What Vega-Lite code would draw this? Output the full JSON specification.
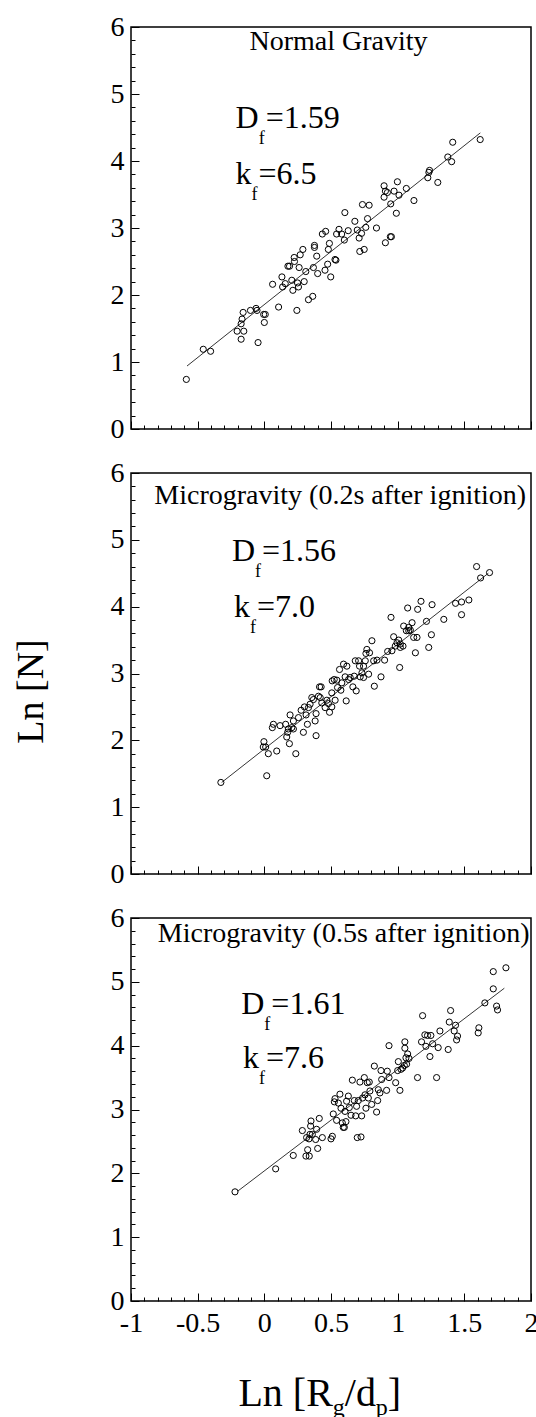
{
"$schema": "https://vega.github.io/schema/vega-lite/v6.json",
"background": "white",
"padding": {"left": 11, "top": 12, "right": 0, "bottom": 0},
"spacing": 44,
"bounds": "flush",
"config": {
  "font": "Liberation Serif",
  "view": {"stroke": "black", "strokeWidth": 1.5},
  "text": {"font": "Liberation Serif", "color": "black"},
  "axis": {"domain": false, "grid": false, "tickColor": "black", "tickWidth": 1, "tickCount": 100, "labelColor": "black", "labelFont": "Liberation Serif", "labelFontSize": 28, "labelOverlap": false, "labelBound": false, "labelFlush": false, "titleFont": "Liberation Serif", "titleFontSize": 38, "titleFontWeight": "normal", "titleColor": "black"}
},
"datasets": {
  "pts": [
{"panel":"a","x":-0.585,"y":0.74},{"panel":"a","x":-0.458,"y":1.19},{"panel":"a","x":-0.403,"y":1.16},{"panel":"a","x":-0.204,"y":1.46},{"panel":"a","x":-0.174,"y":1.34},{"panel":"a","x":-0.154,"y":1.46},{"panel":"a","x":-0.174,"y":1.57},{"panel":"a","x":-0.167,"y":1.64},{"panel":"a","x":-0.159,"y":1.74},{"panel":"a","x":-0.104,"y":1.77},{"panel":"a","x":-0.062,"y":1.80},{"panel":"a","x":-0.055,"y":1.77},{"panel":"a","x":-0.047,"y":1.29},{"panel":"a","x":-0.005,"y":1.71},{"panel":"a","x":0.007,"y":1.71},{"panel":"a","x":0.0,"y":1.59},{"panel":"a","x":0.062,"y":2.16},{"panel":"a","x":0.107,"y":1.82},{"panel":"a","x":0.132,"y":2.27},{"panel":"a","x":0.137,"y":2.12},{"panel":"a","x":0.157,"y":2.17},{"panel":"a","x":0.177,"y":2.43},{"panel":"a","x":0.189,"y":2.43},{"panel":"a","x":0.206,"y":2.22},{"panel":"a","x":0.214,"y":2.07},{"panel":"a","x":0.224,"y":2.56},{"panel":"a","x":0.226,"y":2.50},{"panel":"a","x":0.244,"y":1.77},{"panel":"a","x":0.249,"y":2.18},{"panel":"a","x":0.256,"y":2.12},{"panel":"a","x":0.261,"y":2.41},{"panel":"a","x":0.269,"y":2.60},{"panel":"a","x":0.289,"y":2.68},{"panel":"a","x":0.299,"y":2.20},{"panel":"a","x":0.311,"y":2.35},{"panel":"a","x":0.331,"y":1.93},{"panel":"a","x":0.363,"y":1.98},{"panel":"a","x":0.368,"y":2.41},{"panel":"a","x":0.376,"y":2.71},{"panel":"a","x":0.376,"y":2.74},{"panel":"a","x":0.393,"y":2.58},{"panel":"a","x":0.400,"y":2.32},{"panel":"a","x":0.435,"y":2.91},{"panel":"a","x":0.460,"y":2.95},{"panel":"a","x":0.455,"y":2.37},{"panel":"a","x":0.475,"y":2.46},{"panel":"a","x":0.480,"y":2.68},{"panel":"a","x":0.488,"y":2.77},{"panel":"a","x":0.498,"y":2.27},{"panel":"a","x":0.530,"y":2.53},{"panel":"a","x":0.537,"y":2.52},{"panel":"a","x":0.542,"y":2.91},{"panel":"a","x":0.560,"y":2.98},{"panel":"a","x":0.580,"y":2.91},{"panel":"a","x":0.600,"y":2.82},{"panel":"a","x":0.604,"y":3.23},{"panel":"a","x":0.629,"y":2.96},{"panel":"a","x":0.679,"y":3.10},{"panel":"a","x":0.697,"y":2.97},{"panel":"a","x":0.711,"y":2.85},{"panel":"a","x":0.716,"y":2.65},{"panel":"a","x":0.729,"y":2.92},{"panel":"a","x":0.736,"y":3.35},{"panel":"a","x":0.749,"y":2.68},{"panel":"a","x":0.761,"y":3.01},{"panel":"a","x":0.774,"y":3.14},{"panel":"a","x":0.786,"y":3.34},{"panel":"a","x":0.841,"y":3.00},{"panel":"a","x":0.898,"y":3.63},{"panel":"a","x":0.898,"y":3.46},{"panel":"a","x":0.908,"y":3.55},{"panel":"a","x":0.908,"y":2.78},{"panel":"a","x":0.923,"y":3.53},{"panel":"a","x":0.945,"y":2.87},{"panel":"a","x":0.953,"y":2.87},{"panel":"a","x":0.948,"y":3.36},{"panel":"a","x":0.973,"y":3.55},{"panel":"a","x":0.990,"y":3.22},{"panel":"a","x":0.998,"y":3.69},{"panel":"a","x":1.010,"y":3.49},{"panel":"a","x":1.065,"y":3.59},{"panel":"a","x":1.122,"y":3.41},{"panel":"a","x":1.226,"y":3.75},{"panel":"a","x":1.234,"y":3.83},{"panel":"a","x":1.239,"y":3.86},{"panel":"a","x":1.301,"y":3.68},{"panel":"a","x":1.376,"y":4.06},{"panel":"a","x":1.405,"y":3.99},{"panel":"a","x":1.413,"y":4.28},{"panel":"a","x":1.619,"y":4.32},
{"panel":"b","x":-0.326,"y":1.37},{"panel":"b","x":0.018,"y":1.47},{"panel":"b","x":-0.003,"y":1.98},{"panel":"b","x":-0.008,"y":1.90},{"panel":"b","x":0.010,"y":1.90},{"panel":"b","x":0.030,"y":1.80},{"panel":"b","x":0.093,"y":1.84},{"panel":"b","x":0.068,"y":2.24},{"panel":"b","x":0.060,"y":2.19},{"panel":"b","x":0.118,"y":2.22},{"panel":"b","x":0.160,"y":2.24},{"panel":"b","x":0.168,"y":2.05},{"panel":"b","x":0.175,"y":2.12},{"panel":"b","x":0.180,"y":2.17},{"panel":"b","x":0.188,"y":1.95},{"panel":"b","x":0.193,"y":2.38},{"panel":"b","x":0.206,"y":2.19},{"panel":"b","x":0.218,"y":2.29},{"panel":"b","x":0.236,"y":1.80},{"panel":"b","x":0.256,"y":2.34},{"panel":"b","x":0.276,"y":2.45},{"panel":"b","x":0.293,"y":2.12},{"panel":"b","x":0.301,"y":2.50},{"panel":"b","x":0.313,"y":2.38},{"panel":"b","x":0.323,"y":2.24},{"panel":"b","x":0.343,"y":2.54},{"panel":"b","x":0.356,"y":2.64},{"panel":"b","x":0.368,"y":2.61},{"panel":"b","x":0.381,"y":2.29},{"panel":"b","x":0.388,"y":2.07},{"panel":"b","x":0.388,"y":2.40},{"panel":"b","x":0.406,"y":2.66},{"panel":"b","x":0.414,"y":2.80},{"panel":"b","x":0.426,"y":2.80},{"panel":"b","x":0.431,"y":2.56},{"panel":"b","x":0.456,"y":2.49},{"panel":"b","x":0.469,"y":2.60},{"panel":"b","x":0.481,"y":2.55},{"panel":"b","x":0.489,"y":2.42},{"panel":"b","x":0.506,"y":2.50},{"panel":"b","x":0.506,"y":2.71},{"panel":"b","x":0.524,"y":2.91},{"panel":"b","x":0.531,"y":2.60},{"panel":"b","x":0.544,"y":2.90},{"panel":"b","x":0.549,"y":2.79},{"panel":"b","x":0.564,"y":3.06},{"panel":"b","x":0.574,"y":2.75},{"panel":"b","x":0.581,"y":2.86},{"panel":"b","x":0.594,"y":3.14},{"panel":"b","x":0.606,"y":2.95},{"panel":"b","x":0.614,"y":2.59},{"panel":"b","x":0.619,"y":3.11},{"panel":"b","x":0.632,"y":2.91},{"panel":"b","x":0.644,"y":2.94},{"panel":"b","x":0.664,"y":2.80},{"panel":"b","x":0.674,"y":2.96},{"panel":"b","x":0.682,"y":3.19},{"panel":"b","x":0.689,"y":2.74},{"panel":"b","x":0.707,"y":3.19},{"panel":"b","x":0.714,"y":3.11},{"panel":"b","x":0.719,"y":2.95},{"panel":"b","x":0.732,"y":3.01},{"panel":"b","x":0.744,"y":3.11},{"panel":"b","x":0.757,"y":3.19},{"panel":"b","x":0.762,"y":3.30},{"panel":"b","x":0.769,"y":3.36},{"panel":"b","x":0.782,"y":2.99},{"panel":"b","x":0.789,"y":3.31},{"panel":"b","x":0.807,"y":3.49},{"panel":"b","x":0.820,"y":3.19},{"panel":"b","x":0.825,"y":2.81},{"panel":"b","x":0.845,"y":3.20},{"panel":"b","x":0.875,"y":2.95},{"panel":"b","x":0.902,"y":3.20},{"panel":"b","x":0.925,"y":3.33},{"panel":"b","x":0.950,"y":3.84},{"panel":"b","x":0.957,"y":3.34},{"panel":"b","x":0.970,"y":3.55},{"panel":"b","x":0.982,"y":3.41},{"panel":"b","x":0.995,"y":3.46},{"panel":"b","x":1.008,"y":3.50},{"panel":"b","x":1.015,"y":3.09},{"panel":"b","x":1.020,"y":3.39},{"panel":"b","x":1.040,"y":3.41},{"panel":"b","x":1.045,"y":3.71},{"panel":"b","x":1.065,"y":3.64},{"panel":"b","x":1.075,"y":3.98},{"panel":"b","x":1.083,"y":3.69},{"panel":"b","x":1.095,"y":3.65},{"panel":"b","x":1.108,"y":3.76},{"panel":"b","x":1.120,"y":3.54},{"panel":"b","x":1.133,"y":3.31},{"panel":"b","x":1.145,"y":3.54},{"panel":"b","x":1.150,"y":3.96},{"panel":"b","x":1.175,"y":4.08},{"panel":"b","x":1.216,"y":3.78},{"panel":"b","x":1.233,"y":3.39},{"panel":"b","x":1.253,"y":3.58},{"panel":"b","x":1.258,"y":4.03},{"panel":"b","x":1.346,"y":3.81},{"panel":"b","x":1.434,"y":4.05},{"panel":"b","x":1.479,"y":4.07},{"panel":"b","x":1.479,"y":3.88},{"panel":"b","x":1.534,"y":4.10},{"panel":"b","x":1.592,"y":4.60},{"panel":"b","x":1.622,"y":4.43},{"panel":"b","x":1.689,"y":4.51},{"panel":"b","x":0.509,"y":2.89},{"panel":"b","x":0.331,"y":2.49},{"panel":"b","x":0.218,"y":2.17},{"panel":"b","x":0.419,"y":2.64},{"panel":"b","x":0.744,"y":2.94},{"panel":"b","x":1.020,"y":3.44},{"panel":"b","x":1.083,"y":3.64},
{"panel":"c","x":-0.220,"y":1.71},{"panel":"c","x":0.085,"y":2.07},{"panel":"c","x":0.217,"y":2.28},{"panel":"c","x":0.285,"y":2.67},{"panel":"c","x":0.312,"y":2.27},{"panel":"c","x":0.325,"y":2.37},{"panel":"c","x":0.317,"y":2.56},{"panel":"c","x":0.335,"y":2.54},{"panel":"c","x":0.337,"y":2.27},{"panel":"c","x":0.342,"y":2.61},{"panel":"c","x":0.347,"y":2.74},{"panel":"c","x":0.350,"y":2.82},{"panel":"c","x":0.360,"y":2.61},{"panel":"c","x":0.385,"y":2.53},{"panel":"c","x":0.392,"y":2.69},{"panel":"c","x":0.400,"y":2.39},{"panel":"c","x":0.412,"y":2.86},{"panel":"c","x":0.435,"y":2.56},{"panel":"c","x":0.500,"y":2.54},{"panel":"c","x":0.510,"y":2.58},{"panel":"c","x":0.517,"y":2.93},{"panel":"c","x":0.525,"y":3.12},{"panel":"c","x":0.530,"y":3.17},{"panel":"c","x":0.542,"y":2.83},{"panel":"c","x":0.555,"y":3.10},{"panel":"c","x":0.567,"y":3.24},{"panel":"c","x":0.575,"y":3.02},{"panel":"c","x":0.585,"y":2.79},{"panel":"c","x":0.592,"y":2.72},{"panel":"c","x":0.600,"y":2.72},{"panel":"c","x":0.605,"y":2.97},{"panel":"c","x":0.612,"y":2.81},{"panel":"c","x":0.617,"y":3.13},{"panel":"c","x":0.630,"y":3.21},{"panel":"c","x":0.637,"y":3.03},{"panel":"c","x":0.650,"y":2.91},{"panel":"c","x":0.660,"y":3.46},{"panel":"c","x":0.675,"y":3.14},{"panel":"c","x":0.685,"y":2.90},{"panel":"c","x":0.692,"y":3.05},{"panel":"c","x":0.697,"y":2.56},{"panel":"c","x":0.705,"y":3.14},{"panel":"c","x":0.717,"y":3.43},{"panel":"c","x":0.725,"y":2.57},{"panel":"c","x":0.730,"y":2.90},{"panel":"c","x":0.737,"y":3.18},{"panel":"c","x":0.750,"y":3.50},{"panel":"c","x":0.755,"y":3.23},{"panel":"c","x":0.762,"y":3.02},{"panel":"c","x":0.772,"y":3.42},{"panel":"c","x":0.780,"y":3.18},{"panel":"c","x":0.787,"y":3.43},{"panel":"c","x":0.792,"y":3.29},{"panel":"c","x":0.805,"y":3.08},{"panel":"c","x":0.825,"y":3.68},{"panel":"c","x":0.842,"y":2.96},{"panel":"c","x":0.850,"y":3.14},{"panel":"c","x":0.855,"y":3.31},{"panel":"c","x":0.867,"y":3.26},{"panel":"c","x":0.875,"y":3.61},{"panel":"c","x":0.880,"y":3.47},{"panel":"c","x":0.917,"y":3.30},{"panel":"c","x":0.922,"y":3.60},{"panel":"c","x":0.935,"y":3.50},{"panel":"c","x":0.935,"y":4.00},{"panel":"c","x":0.985,"y":3.42},{"panel":"c","x":1.000,"y":3.61},{"panel":"c","x":1.005,"y":3.75},{"panel":"c","x":1.017,"y":3.30},{"panel":"c","x":1.025,"y":3.63},{"panel":"c","x":1.037,"y":3.65},{"panel":"c","x":1.050,"y":3.69},{"panel":"c","x":1.054,"y":4.06},{"panel":"c","x":1.054,"y":3.96},{"panel":"c","x":1.062,"y":3.81},{"panel":"c","x":1.067,"y":3.71},{"panel":"c","x":1.075,"y":3.87},{"panel":"c","x":1.085,"y":3.80},{"panel":"c","x":1.149,"y":3.50},{"panel":"c","x":1.179,"y":4.06},{"panel":"c","x":1.187,"y":4.47},{"panel":"c","x":1.204,"y":4.17},{"panel":"c","x":1.212,"y":3.99},{"panel":"c","x":1.224,"y":4.16},{"panel":"c","x":1.242,"y":3.83},{"panel":"c","x":1.249,"y":4.16},{"panel":"c","x":1.262,"y":4.03},{"panel":"c","x":1.292,"y":3.50},{"panel":"c","x":1.304,"y":3.97},{"panel":"c","x":1.317,"y":4.23},{"panel":"c","x":1.379,"y":3.94},{"panel":"c","x":1.387,"y":4.37},{"panel":"c","x":1.397,"y":4.55},{"panel":"c","x":1.424,"y":4.23},{"panel":"c","x":1.434,"y":4.32},{"panel":"c","x":1.442,"y":4.09},{"panel":"c","x":1.449,"y":4.15},{"panel":"c","x":1.609,"y":4.28},{"panel":"c","x":1.604,"y":4.20},{"panel":"c","x":1.654,"y":4.67},{"panel":"c","x":1.717,"y":4.89},{"panel":"c","x":1.717,"y":5.16},{"panel":"c","x":1.742,"y":4.62},{"panel":"c","x":1.749,"y":4.56},{"panel":"c","x":1.812,"y":5.22}
  ],
  "fit": [
{"panel":"a","x":-0.58,"y":0.94},{"panel":"a","x":1.62,"y":4.42},
{"panel":"b","x":-0.32,"y":1.37},{"panel":"b","x":1.68,"y":4.50},
{"panel":"c","x":-0.20,"y":1.72},{"panel":"c","x":1.80,"y":4.90}
  ],
  "ann": [
{"panel":"a","x":-0.042,"y":4.49,"main":"D","sub":"f","rest":"=1.59"},
{"panel":"a","x":-0.097,"y":3.65,"main":"k","sub":"f","rest":"=6.5"},
{"panel":"b","x":-0.070,"y":4.68,"main":"D","sub":"f","rest":"=1.56"},
{"panel":"b","x":-0.108,"y":3.84,"main":"k","sub":"f","rest":"=7.0"},
{"panel":"c","x":0.0,"y":4.49,"main":"D","sub":"f","rest":"=1.61"},
{"panel":"c","x":-0.040,"y":3.65,"main":"k","sub":"f","rest":"=7.6"}
  ],
  "heads": [
{"panel":"a","x":0.556,"y":5.66,"text":"Normal Gravity"},
{"panel":"b","x":0.569,"y":5.53,"text":"Microgravity (0.2s after ignition)"},
{"panel":"c","x":0.595,"y":5.62,"text":"Microgravity (0.5s after ignition)"}
  ]
},
"vconcat": [
{
  "width": 400, "height": 402,
  "layer": [
    {"data": {"name": "pts"}, "transform": [{"filter": "datum.panel === 'a'"}],
     "mark": {"type": "point", "shape": "circle", "filled": false, "size": 38, "stroke": "black", "strokeWidth": 1, "opacity": 1},
     "encoding": {
       "x": {"field": "x", "type": "quantitative", "scale": {"domain": [-1, 2], "nice": false, "zero": false},
             "axis": {"title": null, "labels": false, "labelOverlap": false, "tickCount": 100, "values": [-1,-0.9,-0.8,-0.7,-0.6,-0.5,-0.4,-0.3,-0.2,-0.1,0,0.1,0.2,0.3,0.4,0.5,0.6,0.7,0.8,0.9,1,1.1,1.2,1.3,1.4,1.5,1.6,1.7,1.8,1.9,2],
                      "tickSize": {"condition": {"test": "(datum.value * 2) % 1 === 0", "value": -8}, "value": -4}}},
       "y": {"field": "y", "type": "quantitative", "scale": {"domain": [0, 6], "nice": false, "zero": false},
             "axis": {"title": null, "labelOverlap": false, "tickCount": 100, "labelFont": "Liberation Serif", "values": [0,0.2,0.4,0.6,0.8,1,1.2,1.4,1.6,1.8,2,2.2,2.4,2.6,2.8,3,3.2,3.4,3.6,3.8,4,4.2,4.4,4.6,4.8,5,5.2,5.4,5.6,5.8,6],
                      "labelExpr": "datum.value % 1 === 0 ? '' + datum.value : ''", "labelPadding": 15,
                      "tickSize": {"condition": {"test": "datum.value % 1 === 0", "value": -8}, "value": -4}}}
     }},
    {"data": {"name": "fit"}, "transform": [{"filter": "datum.panel === 'a'"}],
     "mark": {"type": "line", "color": "black", "strokeWidth": 0.8},
     "encoding": {"x": {"field": "x", "type": "quantitative"}, "y": {"field": "y", "type": "quantitative"}}},
    {"data": {"name": "heads"}, "transform": [{"filter": "datum.panel === 'a'"}],
     "mark": {"type": "text", "align": "center", "baseline": "alphabetic", "font": "Liberation Serif", "fontSize": 28, "color": "black"},
     "encoding": {"x": {"field": "x", "type": "quantitative"}, "y": {"field": "y", "type": "quantitative"}, "text": {"field": "text"}}},
    {"data": {"name": "ann"}, "transform": [{"filter": "datum.panel === 'a'"}],
     "mark": {"type": "text", "align": "right", "baseline": "alphabetic", "font": "Liberation Serif", "fontSize": 32, "color": "black"},
     "encoding": {"x": {"field": "x", "type": "quantitative"}, "y": {"field": "y", "type": "quantitative"}, "text": {"field": "main"}}},
    {"data": {"name": "ann"}, "transform": [{"filter": "datum.panel === 'a'"}],
     "mark": {"type": "text", "align": "left", "baseline": "alphabetic", "font": "Liberation Serif", "fontSize": 18, "dy": 16, "color": "black"},
     "encoding": {"x": {"field": "x", "type": "quantitative"}, "y": {"field": "y", "type": "quantitative"}, "text": {"field": "sub"}}},
    {"data": {"name": "ann"}, "transform": [{"filter": "datum.panel === 'a'"}],
     "mark": {"type": "text", "align": "left", "baseline": "alphabetic", "font": "Liberation Serif", "fontSize": 32, "dx": 7, "color": "black"},
     "encoding": {"x": {"field": "x", "type": "quantitative"}, "y": {"field": "y", "type": "quantitative"}, "text": {"field": "rest"}}}
  ]
},
{
  "width": 400, "height": 401,
  "layer": [
    {"data": {"name": "pts"}, "transform": [{"filter": "datum.panel === 'b'"}],
     "mark": {"type": "point", "shape": "circle", "filled": false, "size": 38, "stroke": "black", "strokeWidth": 1, "opacity": 1},
     "encoding": {
       "x": {"field": "x", "type": "quantitative", "scale": {"domain": [-1, 2], "nice": false, "zero": false},
             "axis": {"title": null, "labels": false, "labelOverlap": false, "tickCount": 100, "values": [-1,-0.9,-0.8,-0.7,-0.6,-0.5,-0.4,-0.3,-0.2,-0.1,0,0.1,0.2,0.3,0.4,0.5,0.6,0.7,0.8,0.9,1,1.1,1.2,1.3,1.4,1.5,1.6,1.7,1.8,1.9,2],
                      "tickSize": {"condition": {"test": "(datum.value * 2) % 1 === 0", "value": -8}, "value": -4}}},
       "y": {"field": "y", "type": "quantitative", "scale": {"domain": [0, 6], "nice": false, "zero": false},
             "axis": {"title": "Ln [N]", "titleFont": "Liberation Serif", "titleFontSize": 38, "titlePadding": 60, "titleY": 218, "labelOverlap": false, "tickCount": 100, "labelFont": "Liberation Serif", "values": [0,0.2,0.4,0.6,0.8,1,1.2,1.4,1.6,1.8,2,2.2,2.4,2.6,2.8,3,3.2,3.4,3.6,3.8,4,4.2,4.4,4.6,4.8,5,5.2,5.4,5.6,5.8,6],
                      "labelExpr": "datum.value % 1 === 0 ? '' + datum.value : ''", "labelPadding": 15,
                      "tickSize": {"condition": {"test": "datum.value % 1 === 0", "value": -8}, "value": -4}}}
     }},
    {"data": {"name": "fit"}, "transform": [{"filter": "datum.panel === 'b'"}],
     "mark": {"type": "line", "color": "black", "strokeWidth": 0.8},
     "encoding": {"x": {"field": "x", "type": "quantitative"}, "y": {"field": "y", "type": "quantitative"}}},
    {"data": {"name": "heads"}, "transform": [{"filter": "datum.panel === 'b'"}],
     "mark": {"type": "text", "align": "center", "baseline": "alphabetic", "font": "Liberation Serif", "fontSize": 28, "color": "black"},
     "encoding": {"x": {"field": "x", "type": "quantitative"}, "y": {"field": "y", "type": "quantitative"}, "text": {"field": "text"}}},
    {"data": {"name": "ann"}, "transform": [{"filter": "datum.panel === 'b'"}],
     "mark": {"type": "text", "align": "right", "baseline": "alphabetic", "font": "Liberation Serif", "fontSize": 32, "color": "black"},
     "encoding": {"x": {"field": "x", "type": "quantitative"}, "y": {"field": "y", "type": "quantitative"}, "text": {"field": "main"}}},
    {"data": {"name": "ann"}, "transform": [{"filter": "datum.panel === 'b'"}],
     "mark": {"type": "text", "align": "left", "baseline": "alphabetic", "font": "Liberation Serif", "fontSize": 18, "dy": 16, "color": "black"},
     "encoding": {"x": {"field": "x", "type": "quantitative"}, "y": {"field": "y", "type": "quantitative"}, "text": {"field": "sub"}}},
    {"data": {"name": "ann"}, "transform": [{"filter": "datum.panel === 'b'"}],
     "mark": {"type": "text", "align": "left", "baseline": "alphabetic", "font": "Liberation Serif", "fontSize": 32, "dx": 7, "color": "black"},
     "encoding": {"x": {"field": "x", "type": "quantitative"}, "y": {"field": "y", "type": "quantitative"}, "text": {"field": "rest"}}}
  ]
},
{
  "width": 400, "height": 383,
  "layer": [
    {"data": {"name": "pts"}, "transform": [{"filter": "datum.panel === 'c'"}],
     "mark": {"type": "point", "shape": "circle", "filled": false, "size": 38, "stroke": "black", "strokeWidth": 1, "opacity": 1},
     "encoding": {
       "x": {"field": "x", "type": "quantitative", "scale": {"domain": [-1, 2], "nice": false, "zero": false},
             "axis": {"title": null, "labelOverlap": false, "tickCount": 100, "labelFont": "Liberation Serif", "values": [-1,-0.9,-0.8,-0.7,-0.6,-0.5,-0.4,-0.3,-0.2,-0.1,0,0.1,0.2,0.3,0.4,0.5,0.6,0.7,0.8,0.9,1,1.1,1.2,1.3,1.4,1.5,1.6,1.7,1.8,1.9,2],
                      "labelExpr": "(datum.value * 2) % 1 === 0 ? '' + datum.value : ''", "labelPadding": 16,
                      "tickSize": {"condition": {"test": "(datum.value * 2) % 1 === 0", "value": -8}, "value": -4}}},
       "y": {"field": "y", "type": "quantitative", "scale": {"domain": [0, 6], "nice": false, "zero": false},
             "axis": {"title": null, "labelOverlap": false, "tickCount": 100, "labelFont": "Liberation Serif", "values": [0,0.2,0.4,0.6,0.8,1,1.2,1.4,1.6,1.8,2,2.2,2.4,2.6,2.8,3,3.2,3.4,3.6,3.8,4,4.2,4.4,4.6,4.8,5,5.2,5.4,5.6,5.8,6],
                      "labelExpr": "datum.value % 1 === 0 ? '' + datum.value : ''", "labelPadding": 15,
                      "tickSize": {"condition": {"test": "datum.value % 1 === 0", "value": -8}, "value": -4}}}
     }},
    {"data": {"name": "fit"}, "transform": [{"filter": "datum.panel === 'c'"}],
     "mark": {"type": "line", "color": "black", "strokeWidth": 0.8},
     "encoding": {"x": {"field": "x", "type": "quantitative"}, "y": {"field": "y", "type": "quantitative"}}},
    {"data": {"name": "heads"}, "transform": [{"filter": "datum.panel === 'c'"}],
     "mark": {"type": "text", "align": "center", "baseline": "alphabetic", "font": "Liberation Serif", "fontSize": 28, "color": "black"},
     "encoding": {"x": {"field": "x", "type": "quantitative"}, "y": {"field": "y", "type": "quantitative"}, "text": {"field": "text"}}},
    {"data": {"name": "ann"}, "transform": [{"filter": "datum.panel === 'c'"}],
     "mark": {"type": "text", "align": "right", "baseline": "alphabetic", "font": "Liberation Serif", "fontSize": 32, "color": "black"},
     "encoding": {"x": {"field": "x", "type": "quantitative"}, "y": {"field": "y", "type": "quantitative"}, "text": {"field": "main"}}},
    {"data": {"name": "ann"}, "transform": [{"filter": "datum.panel === 'c'"}],
     "mark": {"type": "text", "align": "left", "baseline": "alphabetic", "font": "Liberation Serif", "fontSize": 18, "dy": 16, "color": "black"},
     "encoding": {"x": {"field": "x", "type": "quantitative"}, "y": {"field": "y", "type": "quantitative"}, "text": {"field": "sub"}}},
    {"data": {"name": "ann"}, "transform": [{"filter": "datum.panel === 'c'"}],
     "mark": {"type": "text", "align": "left", "baseline": "alphabetic", "font": "Liberation Serif", "fontSize": 32, "dx": 7, "color": "black"},
     "encoding": {"x": {"field": "x", "type": "quantitative"}, "y": {"field": "y", "type": "quantitative"}, "text": {"field": "rest"}}},
    {"data": {"values": [{}]},
     "mark": {"type": "text", "text": "Ln [R", "align": "right", "baseline": "alphabetic", "font": "Liberation Serif", "fontSize": 40, "color": "black"},
     "encoding": {"x": {"datum": 0.514}, "y": {"datum": -1.64}}},
    {"data": {"values": [{}]},
     "mark": {"type": "text", "text": "g", "align": "left", "baseline": "alphabetic", "font": "Liberation Serif", "fontSize": 24, "dy": 9, "color": "black"},
     "encoding": {"x": {"datum": 0.514}, "y": {"datum": -1.64}}},
    {"data": {"values": [{}]},
     "mark": {"type": "text", "text": "/d", "align": "left", "baseline": "alphabetic", "font": "Liberation Serif", "fontSize": 40, "dx": 12, "color": "black"},
     "encoding": {"x": {"datum": 0.514}, "y": {"datum": -1.64}}},
    {"data": {"values": [{}]},
     "mark": {"type": "text", "text": "p", "align": "left", "baseline": "alphabetic", "font": "Liberation Serif", "fontSize": 24, "dx": 43, "dy": 9, "color": "black"},
     "encoding": {"x": {"datum": 0.514}, "y": {"datum": -1.64}}},
    {"data": {"values": [{}]},
     "mark": {"type": "text", "text": "]", "align": "left", "baseline": "alphabetic", "font": "Liberation Serif", "fontSize": 40, "dx": 55, "color": "black"},
     "encoding": {"x": {"datum": 0.514}, "y": {"datum": -1.64}}}
  ]
}
]
}
